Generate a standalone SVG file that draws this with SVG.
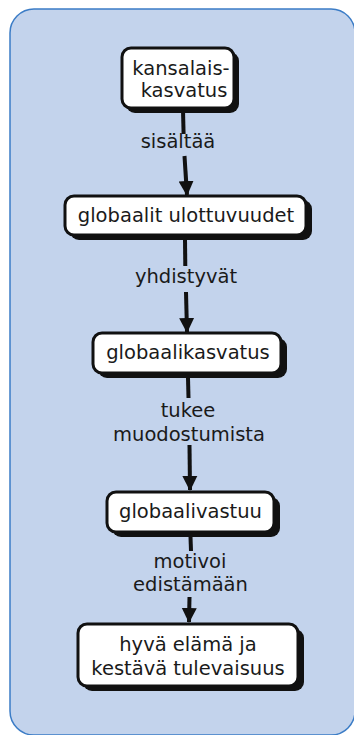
<svg xmlns="http://www.w3.org/2000/svg" width="354" height="735" viewBox="0 0 354 735">
  <style>
    .panel { fill: #c3d3ec; stroke: #3b7cc6; stroke-width: 1.5; }
    .shadow { fill: #111111; }
    .box { fill: #ffffff; stroke: #111111; stroke-width: 3; }
    .label { font-family: "DejaVu Sans", Verdana, sans-serif; font-size: 19.5px; fill: #1a1a1a; text-anchor: middle; }
    .link { stroke: #111111; stroke-width: 4; fill: none; }
    .link-end { stroke: #111111; stroke-width: 4; fill: none; marker-end: url(#arrow); }
  </style>
  <defs>
    <marker id="arrow" markerUnits="userSpaceOnUse" markerWidth="16" markerHeight="16" viewBox="0 0 16 16" refX="14" refY="8" orient="auto">
      <path d="M0,0.5 L15,8 L0,15.5 Z" fill="#111111"/>
    </marker>
  </defs>

  <!-- background panel -->
  <rect class="panel" x="10" y="9" width="345" height="726" rx="24" ry="24"/>

  <!-- connectors -->
  <g id="connectors">
    <line class="link" x1="183" y1="110" x2="183.6" y2="134"/>
    <line class="link-end" x1="184.5" y1="156" x2="187" y2="195"/>
    <text class="label" x="178" y="148">sisältää</text>

    <line class="link" x1="185" y1="240" x2="185.3" y2="266"/>
    <line class="link-end" x1="186" y1="292" x2="187" y2="332"/>
    <text class="label" x="186" y="283">yhdistyvät</text>

    <line class="link" x1="188" y1="378" x2="188.5" y2="398"/>
    <line class="link-end" x1="189.5" y1="445" x2="190" y2="490"/>
    <text class="label" x="188" y="417">tukee</text>
    <text class="label" x="189" y="441">muodostumista</text>

    <line class="link" x1="190.5" y1="537" x2="191" y2="551"/>
    <line class="link-end" x1="189.5" y1="597" x2="189" y2="622"/>
    <text class="label" x="190" y="568">motivoi</text>
    <text class="label" x="190.5" y="591">edistämään</text>
  </g>

  <!-- nodes -->
  <g id="node-kansalaiskasvatus">
    <rect class="shadow" x="126" y="52" width="113" height="61" rx="9"/>
    <rect class="box" x="122" y="48" width="112" height="60" rx="9"/>
    <text class="label" x="181" y="75">kansalais-</text>
    <text class="label" x="184" y="97">kasvatus</text>
  </g>

  <g id="node-globaalit-ulottuvuudet">
    <rect class="shadow" x="70" y="200" width="242" height="40" rx="9"/>
    <rect class="box" x="65" y="196" width="241" height="39" rx="9"/>
    <text class="label" x="186" y="222">globaalit ulottuvuudet</text>
  </g>

  <g id="node-globaalikasvatus">
    <rect class="shadow" x="98" y="338" width="189" height="40" rx="9"/>
    <rect class="box" x="93" y="333" width="188" height="40" rx="9"/>
    <text class="label" x="188" y="359">globaalikasvatus</text>
  </g>

  <g id="node-globaalivastuu">
    <rect class="shadow" x="112" y="497" width="168" height="40" rx="9"/>
    <rect class="box" x="107" y="492" width="167" height="40" rx="9"/>
    <text class="label" x="190.5" y="518">globaalivastuu</text>
  </g>

  <g id="node-hyva-elama">
    <rect class="shadow" x="83" y="629" width="221" height="62" rx="9"/>
    <rect class="box" x="78" y="624" width="220" height="62" rx="9"/>
    <text class="label" x="188" y="651">hyvä elämä ja</text>
    <text class="label" x="188" y="675">kestävä tulevaisuus</text>
  </g>
</svg>
